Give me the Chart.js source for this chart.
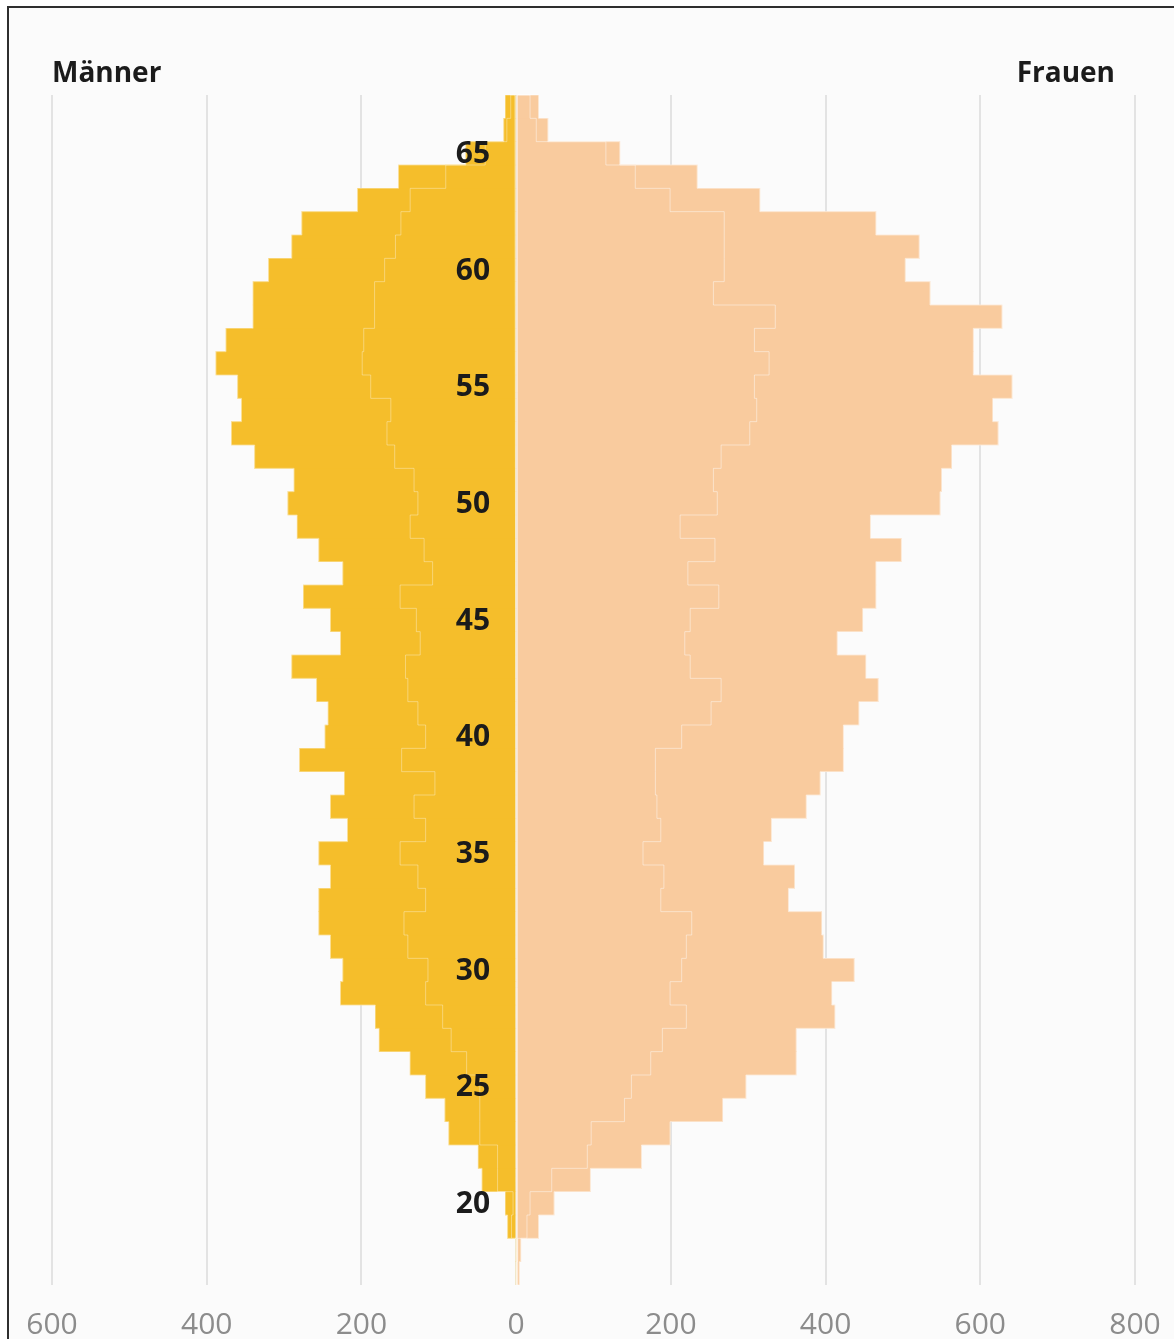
<!DOCTYPE html>
<html>
<head>
<meta charset="utf-8">
<script src="https://cdn.jsdelivr.net/npm/chart.js@4.4.1/dist/chart.umd.min.js"></script>
<style>
  html, body { margin: 0; padding: 0; background: #fff; overflow: hidden; }
  #frame { position: absolute; left: 7px; top: 6px; width: 1200px; height: 1400px; border: 2px solid #2e2e2e; background: #fbfbfb; }
  #wrap { position: absolute; left: 0; top: 0; width: 1174px; height: 1339px; }
</style>
</head>
<body>
<div id="frame"></div>
<div id="wrap"><canvas id="pyramid" width="1174" height="1339"></canvas></div>
<script>
// Altersjahre, von unten nach oben
const ages = [17, 18, 19, 20, 21, 22, 23, 24, 25, 26, 27, 28, 29, 30, 31, 32, 33, 34, 35, 36, 37, 38, 39, 40, 41, 42,
  43, 44, 45, 46, 47, 48, 49, 50, 51, 52, 53, 54, 55, 56, 57, 58, 59, 60, 61, 62, 63, 64, 65, 66, 67];

// Männer: ganze Balken und innere Treppenlinie
const maennerTotal = [0, 0, 11, 14, 44, 49, 87, 92, 117, 137, 177, 182, 227, 224, 240, 255, 255, 240, 255, 218, 240, 222,
  280, 247, 243, 258, 290, 227, 240, 275, 224, 255, 283, 295, 287, 338, 368, 355, 360, 388, 375, 340, 340, 320, 290, 277,
  205, 152, 65, 16, 14];
const maennerInnen = [0, 0, 6, 4, 24, 24, 47, 47, 47, 64, 84, 95, 117, 114, 140, 145, 117, 127, 150, 117, 132, 105,
  148, 117, 127, 140, 143, 124, 129, 150, 108, 119, 137, 127, 132, 157, 167, 162, 188, 199, 197, 183, 183, 170, 156, 149,
  137, 91, 40, 12, 7];

// Frauen
const frauenTotal = [4, 6, 29, 49, 96, 162, 199, 267, 297, 362, 362, 412, 408, 437, 397, 395, 352, 360, 320, 330, 375, 393,
  423, 423, 443, 468, 452, 415, 448, 465, 465, 498, 458, 548, 550, 563, 623, 616, 641, 591, 591, 628, 535, 503, 521, 465,
  315, 234, 134, 41, 29];
const frauenInnen = [1, 2, 14, 18, 46, 92, 97, 140, 149, 174, 189, 220, 199, 214, 220, 227, 187, 191, 164, 187, 182, 180,
  180, 214, 252, 265, 225, 218, 225, 262, 222, 257, 212, 260, 255, 265, 302, 311, 308, 327, 308, 335, 255, 269, 269, 269,
  199, 154, 116, 26, 18];

const xTicks = [-600, -400, -200, 0, 200, 400, 600, 800];

const yellow = 'rgb(245, 190, 43)';
const peach = 'rgb(249, 203, 158)';
const fontFamily = '"Open Sans", "Noto Sans", sans-serif';

// helle Treppenlinie um jede Serie
const outlinePlugin = {
  id: 'outline',
  afterDatasetsDraw(chart) {
    const ctx = chart.ctx;
    ctx.save();
    ctx.lineWidth = 1;
    chart.data.datasets.forEach((ds, k) => {
      const meta = chart.getDatasetMeta(k);
      const rows = meta.data.map(b => ({
        x: b.x, base: b.base, top: b.y - b.height / 2, bottom: b.y + b.height / 2
      })).sort((a, b) => a.top - b.top);
      ctx.strokeStyle = ds.lineColor;
      ctx.beginPath();
      ctx.moveTo(rows[0].base, rows[0].top);
      rows.forEach(r => {
        ctx.lineTo(r.x, r.top);
        ctx.lineTo(r.x, r.bottom);
      });
      ctx.lineTo(rows[rows.length - 1].base, rows[rows.length - 1].bottom);
      ctx.closePath();
      ctx.stroke();
    });
    ctx.restore();
  }
};

// Alterslabels in der Mitte und Titel
const labelPlugin = {
  id: 'labels',
  afterDraw(chart) {
    const ctx = chart.ctx;
    const area = chart.chartArea;
    const x0 = chart.scales.x.getPixelForValue(0);
    ctx.save();
    ctx.fillStyle = '#1b1b1b';
    ctx.font = 'bold 30px ' + fontFamily;
    ctx.textAlign = 'right';
    ctx.textBaseline = 'middle';
    ages.forEach((a, i) => {
      if (a % 5 === 0) ctx.fillText(String(a), x0 - 26, chart.scales.y.getPixelForValue(i) + 1);
    });
    ctx.font = 'bold 28px ' + fontFamily;
    ctx.textBaseline = 'alphabetic';
    ctx.textAlign = 'left';
    ctx.fillText('Männer', area.left, area.top - 13);
    ctx.textAlign = 'right';
    ctx.fillText('Frauen', area.right - 20, area.top - 13);
    ctx.restore();
  }
};

new Chart(document.getElementById('pyramid'), {
  type: 'bar',
  data: {
    labels: ages,
    datasets: [
      { label: 'Männer innen', data: maennerInnen.map(v => -v), backgroundColor: yellow, lineColor: 'rgba(255,255,255,0.35)' },
      { label: 'Frauen innen', data: frauenInnen, backgroundColor: peach, lineColor: 'rgba(255,255,255,0.45)' },
      { label: 'Männer', data: maennerTotal.map(v => -v), backgroundColor: yellow, lineColor: 'rgba(255,255,255,0.4)' },
      { label: 'Frauen', data: frauenTotal, backgroundColor: peach, lineColor: 'rgba(255,255,255,0.5)' }
    ]
  },
  options: {
    indexAxis: 'y',
    responsive: false,
    animation: false,
    datasets: {
      bar: { barPercentage: 1, categoryPercentage: 1, grouped: false, borderWidth: 0 }
    },
    layout: { padding: { top: 95, left: 52, right: 39, bottom: 0 } },
    scales: {
      x: {
        min: xTicks[0],
        max: xTicks[xTicks.length - 1],
        afterBuildTicks: scale => { scale.ticks = xTicks.map(v => ({ value: v })); },
        afterFit: scale => {
          scale.height = 54;
          scale.paddingLeft = 0;
          scale.paddingRight = 0;
        },
        ticks: {
          callback: v => Math.abs(v),
          color: '#8c8c8c',
          font: { family: fontFamily, size: 30 },
          padding: 22,
          maxRotation: 0
        },
        grid: { color: '#e3e3e3', lineWidth: 2, drawTicks: false },
        border: { display: false }
      },
      y: { reverse: true, display: false, offset: true }
    },
    plugins: { legend: { display: false }, tooltip: { enabled: false } }
  },
  plugins: [outlinePlugin, labelPlugin]
});
</script>
</body>
</html>
